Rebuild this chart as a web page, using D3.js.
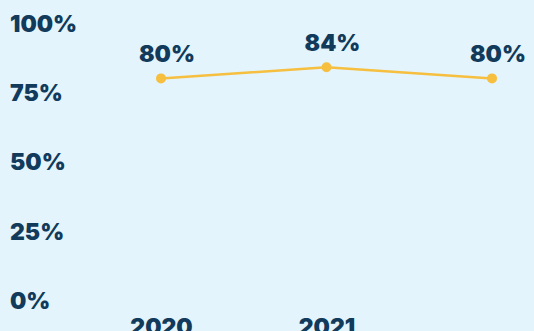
<!DOCTYPE html>
<html>
<head>
<meta charset="utf-8">
<script src="https://cdn.jsdelivr.net/npm/d3@7"></script>
<style>
  html, body { margin: 0; padding: 0; background: #e3f4fd; }
  svg { display: block; }
  text { font-family: Inter, "Noto Sans", sans-serif; font-weight: 900; fill: #113a5b; }
</style>
</head>
<body>
<svg id="chart" width="534" height="331"></svg>
<script>
// Share by year
const years = ["2020", "2021", "2022"];
const shares = [80, 84, 80];
const yTickValues = [0, 25, 50, 75, 100];
const xTickLabels = ["2020", "2021"];

const W = 534, H = 331;
const FONT = "23px";
const svg = d3.select("#chart");

const x = d3.scalePoint().domain(years).range([161, 492]);
const y = d3.scaleLinear().domain([0, 100]).range([300, 23]);

// Y axis: percentage labels only, left-aligned
const yAxis = d3.axisLeft(y)
  .tickValues(yTickValues)
  .tickFormat(d => d + "%")
  .tickSize(0);
const gy = svg.append("g").attr("transform", "translate(10,0)").call(yAxis);
gy.select(".domain").remove();
gy.selectAll("text")
  .attr("x", 0)
  .attr("dy", "0.36em")
  .attr("text-anchor", "start")
  .style("font-size", FONT);

// X axis: year labels
const xAxis = d3.axisBottom(x)
  .tickValues(xTickLabels)
  .tickSize(0);
const gx = svg.append("g").attr("transform", "translate(0,318)").call(xAxis);
gx.select(".domain").remove();
gx.selectAll("text")
  .attr("y", 0)
  .attr("dy", "0.75em")
  .style("font-size", FONT);

// Line
const line = d3.line()
  .x((d, i) => x(years[i]))
  .y(d => y(d));

svg.append("path")
  .datum(shares)
  .attr("d", line)
  .attr("fill", "none")
  .attr("stroke", "#f6bf3f")
  .attr("stroke-width", 2.5);

// Points
svg.selectAll("circle.pt")
  .data(shares)
  .join("circle")
  .attr("class", "pt")
  .attr("cx", (d, i) => x(years[i]))
  .attr("cy", d => y(d))
  .attr("r", 5)
  .attr("fill", "#f6bf3f");

// Value labels
svg.selectAll("text.val")
  .data(shares)
  .join("text")
  .attr("class", "val")
  .attr("x", (d, i) => x(years[i]) + 6)
  .attr("y", d => y(d) - 16)
  .attr("text-anchor", "middle")
  .style("font-size", FONT)
  .text(d => d + "%");
</script>
</body>
</html>
